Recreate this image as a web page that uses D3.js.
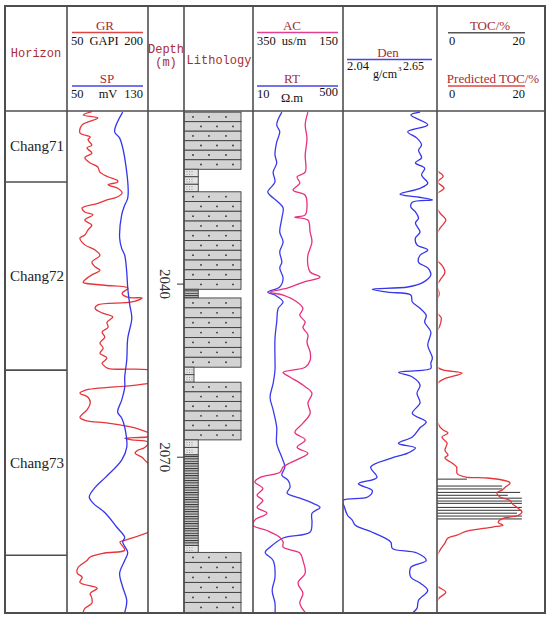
<!DOCTYPE html>
<html>
<head>
<meta charset="utf-8">
<script src="https://cdn.jsdelivr.net/npm/d3@7"></script>
<style>
body { margin: 0; background: #fff; }
</style>
</head>
<body>
<div id="chart"></div>
<script>
// horizons and depth
var horizons = ["Chang71", "Chang72", "Chang73", ""];
var horizonTops = [2010, 2022.3, 2054.9, 2087.0];
var horizonBases = [2022.3, 2054.9, 2087.0, 2097];
var depthTicks = [2040, 2070];

// lithology
var lithTop = [2010.2, 2020.1, 2024.0, 2040.9, 2042.4, 2054.4, 2057.0, 2067.0, 2069.6, 2085.3, 2086.5];
var lithBase = [2020.1, 2024.0, 2040.9, 2042.4, 2054.4, 2057.0, 2067.0, 2069.6, 2085.3, 2086.5, 2096.9];
var lithType = ["sand", "silt", "sand", "mud", "sand", "silt", "sand", "silt", "mud", "silt", "sand"];
var lithGrain = [4, 1, 4, 1, 4, 0.7, 4, 1, 1, 1, 4];

// GR (GAPI)
var grDepth = [2010.1,2010.7,2011.2,2012.4,2013.8,2014.5,2015.0,2015.9,2016.4,2017.3,2018.1,2019.0,2019.7,2020.6,2021.4,2022.0,2022.3,2022.8,2023.4,2024.2,2024.9,2025.4,2026.0,2026.8,2027.5,2028.0,2028.9,2029.8,2030.6,2031.5,2032.0,2033.2,2034.1,2035.0,2036.2,2037.0,2037.6,2038.4,2039.3,2039.7,2040.2,2040.7,2041.6,2042.3,2042.4,2043.1,2043.6,2044.2,2045.0,2045.7,2046.6,2047.5,2048.3,2049.2,2050.2,2051.1,2052.0,2052.8,2053.7,2054.0,2054.6,2054.9,2056.1,2057.2,2058.4,2058.9,2059.6,2060.6,2061.8,2063.1,2063.6,2064.1,2064.8,2065.7,2066.2,2066.5,2066.7,2067.0,2067.4,2068.3,2068.8,2069.3,2070.0,2070.5,2071.0,2072.2,2077.5,2081.8,2083.0,2084.4,2084.7,2086.1,2086.6,2087.3,2087.9,2089.2,2090.1,2090.8,2091.7,2092.7,2093.6,2094.4,2095.3,2096.2,2096.9];
var grVal = [96,80,107,78,74,93,89,96,87,96,83,93,107,111,126,143,144,126,144,152,143,124,107,78,83,98,83,96,89,83,74,83,102,111,96,102,111,96,83,80,120,163,152,163,189,170,107,102,115,135,124,126,115,120,111,117,111,124,115,117,126,204,231,200,83,74,89,93,87,74,83,126,170,200,213,198,157,170,200,194,181,176,189,194,200,231,250,222,200,157,148,157,120,93,87,70,69,78,74,106,93,96,96,83,80];

// SP (mV)
var spDepth = [2010.2,2013.6,2014.7,2020.6,2025.1,2026.3,2028.0,2032.0,2033.8,2035.0,2037.9,2040.7,2043.6,2045.9,2049.4,2053.2,2056.1,2057.9,2060.1,2062.2,2063.2,2064.8,2068.3,2070.5,2073.5,2075.2,2076.9,2078.0,2079.7,2082.1,2083.9,2084.7,2086.5,2087.9,2090.1,2092.5,2094.8,2096.9];
var spVal = [105,97,102,109,110,107,104,102,104,107,109,110,112,114,110,109,107,107,104,100,104,107,109,104,88,78,72,76,88,99,107,105,110,107,102,105,109,107];

// AC (us/m)
var acDepth = [2010.2,2012.4,2014.7,2017.6,2020.6,2021.4,2022.5,2023.7,2024.6,2026.3,2028.0,2028.4,2028.9,2031.0,2032.7,2035.0,2036.7,2037.9,2038.8,2039.7,2040.7,2041.4,2041.9,2043.1,2044.2,2045.4,2046.6,2047.5,2048.8,2050.1,2051.8,2053.2,2054.4,2055.3,2056.1,2057.5,2058.9,2060.6,2062.4,2064.1,2065.7,2067.0,2068.3,2069.3,2070.2,2071.0,2071.7,2072.6,2073.5,2074.3,2075.4,2076.6,2077.5,2078.7,2079.7,2080.9,2081.8,2082.7,2083.9,2084.7,2085.6,2086.6,2087.9,2090.1,2091.8,2093.6,2095.3,2096.9];
var acVal = [228,234,230,234,234,252,246,261,234,230,234,257,228,223,219,228,228,223,201,239,274,312,283,252,239,246,234,239,228,230,223,223,234,283,268,239,219,228,223,239,257,234,252,228,246,268,283,290,334,346,328,341,328,341,319,346,350,319,290,283,283,246,239,234,250,239,246,234];

// RT (ohm.m)
var rtDepth = [2010.2,2012.4,2013.6,2015.4,2017.6,2019.0,2020.6,2022.3,2024.0,2024.6,2025.8,2026.8,2028.6,2031.0,2032.7,2034.4,2036.2,2037.2,2039.0,2040.5,2041.4,2041.9,2043.1,2044.2,2046.6,2049.4,2053.2,2054.9,2057.2,2059.6,2061.8,2064.8,2067.6,2070.0,2071.7,2073.1,2074.0,2075.2,2076.2,2077.1,2078.0,2078.7,2079.7,2081.4,2083.0,2084.0,2085.6,2086.5,2087.9,2090.8,2093.1,2095.3,2097.0];
var rtVal = [35,28,32,28,26,28,24,26,19,21,30,37,35,32,37,32,35,32,37,32,19,26,37,30,28,26,26,26,24,21,24,28,28,35,40,35,46,50,44,77,136,184,130,130,119,37,21,17,24,26,23,26,26];

// Den (g/cm3)
var denDepth = [2010.2,2010.7,2012.4,2013.6,2014.7,2015.9,2016.8,2018.1,2019.0,2019.9,2021.1,2022.5,2023.4,2024.4,2024.9,2025.4,2025.8,2026.6,2027.5,2028.6,2029.4,2031.0,2032.0,2033.2,2034.1,2035.0,2036.2,2037.2,2038.4,2039.7,2040.5,2040.9,2041.4,2041.9,2043.1,2044.2,2045.4,2046.6,2048.3,2050.6,2052.8,2053.7,2054.6,2055.3,2056.1,2057.5,2058.9,2060.6,2062.4,2063.9,2064.9,2066.5,2067.6,2068.4,2069.3,2070.2,2071.7,2073.5,2074.6,2075.8,2076.9,2077.5,2078.7,2080.1,2080.9,2081.8,2083.0,2084.7,2085.8,2086.6,2087.9,2089.1,2090.8,2091.8,2093.1,2094.8,2096.2,2097.0];
var denVal = [2.54,2.48,2.59,2.46,2.52,2.55,2.53,2.55,2.51,2.57,2.55,2.59,2.54,2.41,2.52,2.62,2.49,2.48,2.51,2.53,2.51,2.54,2.51,2.52,2.59,2.54,2.53,2.59,2.61,2.56,2.46,2.23,2.33,2.48,2.49,2.54,2.58,2.57,2.61,2.59,2.62,2.61,2.61,2.40,2.49,2.54,2.52,2.54,2.49,2.58,2.54,2.49,2.40,2.51,2.46,2.35,2.22,2.26,2.14,2.23,2.20,2.04,2.05,2.07,2.10,2.12,2.23,2.35,2.36,2.52,2.58,2.48,2.48,2.54,2.59,2.53,2.52,2.49];

// predicted TOC (%)
var tocPredDepth = [2010.0,2020.2,2021.3,2022.3,2023.4,2024.4,2026.8,2027.7,2028.9,2030.3,2031.3,2035.8,2036.7,2037.9,2039.3,2040.2,2041.7,2042.8,2044.9,2045.9,2047.3,2048.3,2054.2,2054.9,2055.4,2056.3,2057.5,2063.6,2064.1,2065.3,2065.8,2066.5,2067.6,2068.8,2069.6,2070.1,2071.0,2071.8,2072.7,2073.5,2073.6,2074.2,2074.5,2075.2,2075.7,2076.2,2076.9,2077.5,2078.0,2078.7,2079.5,2080.1,2080.6,2081.3,2081.8,2082.1,2082.7,2083.5,2084.0,2084.9,2086.1,2087.3,2092.2,2093.4,2094.4,2095.3,2097.0];
var tocPredVal = [0,0,1.4,0.2,1.6,0,0,0.7,2.0,0.7,0,0,1.1,1.8,0.7,0,0.5,0,0,1.0,0.6,0,0,1.5,5.7,2.0,0,0,0.2,1.4,2.5,1.1,2.3,1.8,2.5,1.8,3.4,4.5,4.5,6.8,11.4,16.1,16.6,15.5,14.8,13.6,14.3,16.6,17.0,18.2,19.3,18.4,15.0,13.9,15.0,12.7,7.5,4.5,2.5,1.8,0.7,0,0,2.0,0.5,0,0];

// measured TOC (%)
var tocDepth = [2073.8,2075.0,2075.5,2076.1,2076.6,2077.1,2077.6,2078.0,2078.7,2079.2,2079.7,2080.2,2080.7];
var tocVal = [6.8,14.8,14.8,18.9,16.1,19.3,19.3,19.3,19.3,19.3,18.2,19.3,19.3];

var W = 550, H = 620;
var colX = [5, 67, 148, 184, 253, 343, 437, 545];
var frameTop = 6, headBot = 111, frameBot = 613;
var red = "#a82c32";
var serif = "'Liberation Serif', 'Times New Roman', serif";
var mono = "'Liberation Mono', 'DejaVu Sans Mono', monospace";

var svg = d3.select("#chart").append("svg")
    .attr("width", W)
    .attr("height", H);

var y = d3.scaleLinear().domain([2010, 2097]).range([headBot, frameBot]);
var grX = d3.scaleLinear().domain([50, 200]).range([67, 148]);
var spX = d3.scaleLinear().domain([50, 130]).range([67, 148]);
var acX = d3.scaleLinear().domain([350, 150]).range([253, 343]);
var rtX = d3.scaleLog().domain([10, 500]).range([253, 343]);
var denX = d3.scaleLinear().domain([2.04, 2.65]).range([343, 437]);
var tocX = d3.scaleLinear().domain([0, 20]).range([437, 525]);
var lithX = d3.scaleLinear().domain([0, 4]).range([184, 241]);

var defs = svg.append("defs");
function addClip(id, x0, x1) {
    defs.append("clipPath").attr("id", id).append("rect")
        .attr("x", x0).attr("y", headBot).attr("width", x1 - x0).attr("height", frameBot - headBot);
}
addClip("clipGR", 67, 148);
addClip("clipAC", 253, 343);
addClip("clipDen", 343, 437);
addClip("clipTOC", 438.5, 545);

var mudPat = defs.append("pattern").attr("id", "mudPat")
    .attr("patternUnits", "userSpaceOnUse").attr("width", 8).attr("height", 2.4);
mudPat.append("rect").attr("width", 8).attr("height", 2.4).attr("fill", "#cdcdcd");
mudPat.append("line").attr("x1", 0).attr("x2", 8).attr("y1", 0.5).attr("y2", 0.5)
    .attr("stroke", "#2e2e2e").attr("stroke-width", 1);

svg.append("rect").attr("width", W).attr("height", H).attr("fill", "#fff");

// ---- lithology ----
var lith = svg.append("g");
lithType.forEach(function (t, i) {
    var x0 = lithX(0), x1 = lithX(lithGrain[i]);
    var y0 = y(lithTop[i]), y1 = y(lithBase[i]);
    if (t === "mud") {
        lith.append("rect").attr("x", x0).attr("y", y0).attr("width", x1 - x0).attr("height", y1 - y0)
            .attr("fill", "url(#mudPat)").attr("stroke", "#444").attr("stroke-width", 0.9);
        return;
    }
    var rowH = t === "sand" ? 9.7 : 7.7;
    var n = Math.max(1, Math.round((y1 - y0) / rowH));
    var h = (y1 - y0) / n;
    for (var k = 0; k < n; k++) {
        var ry = y0 + k * h;
        lith.append("rect").attr("x", x0).attr("y", ry).attr("width", x1 - x0).attr("height", h)
            .attr("fill", t === "sand" ? "#d3d3d3" : "#e4e4e4")
            .attr("stroke", "#3c3c3c").attr("stroke-width", 0.9);
        if (t === "sand") {
            var offs = k % 2 === 0 ? [9, 25, 42] : [17, 33, 49];
            offs.forEach(function (o) {
                lith.append("circle").attr("cx", x0 + o).attr("cy", ry + h / 2).attr("r", 0.9).attr("fill", "#333");
            });
        } else {
            [3, 5.5, 8].forEach(function (o) {
                [h / 2 - 1.2, h / 2 + 1.2].forEach(function (dy) {
                    lith.append("circle").attr("cx", x0 + o).attr("cy", ry + dy).attr("r", 0.5).attr("fill", "#777");
                });
            });
        }
    }
});

// ---- curves ----
function drawCurve(depths, vals, xs, color, clip, curve) {
    var pts = depths.map(function (d, i) { return [d, vals[i]]; });
    var line = d3.line()
        .x(function (p) { return xs(p[1]); })
        .y(function (p) { return y(p[0]); })
        .curve(curve || d3.curveCatmullRom.alpha(0.5));
    svg.append("path").datum(pts)
        .attr("d", line)
        .attr("fill", "none")
        .attr("stroke", color)
        .attr("stroke-width", 1.3)
        .attr("clip-path", "url(#" + clip + ")");
}
drawCurve(grDepth, grVal, grX, "#e6353a", "clipGR");
drawCurve(spDepth, spVal, spX, "#3535ec", "clipGR");
drawCurve(rtDepth, rtVal, rtX, "#3a3aee", "clipAC");
drawCurve(acDepth, acVal, acX, "#e8307c", "clipAC");
drawCurve(denDepth, denVal, denX, "#3535ec", "clipDen");

// measured TOC bars
svg.append("g").selectAll("line").data(tocDepth).join("line")
    .attr("x1", tocX(0))
    .attr("x2", function (d, i) { return tocX(tocVal[i]); })
    .attr("y1", function (d) { return y(d); })
    .attr("y2", function (d) { return y(d); })
    .attr("stroke", "#333").attr("stroke-width", 1);
drawCurve(tocPredDepth, tocPredVal, tocX, "#e6353a", "clipTOC", d3.curveMonotoneY);

// ---- frame and grid ----
var grid = svg.append("g").attr("stroke", "#4e4e4e").attr("stroke-width", 1.6).attr("fill", "none");
grid.append("rect").attr("x", colX[0]).attr("y", frameTop)
    .attr("width", colX[7] - colX[0]).attr("height", frameBot - frameTop).attr("stroke-width", 2);
grid.append("line").attr("x1", colX[0]).attr("x2", colX[7]).attr("y1", headBot).attr("y2", headBot);
colX.slice(1, 7).forEach(function (x) {
    grid.append("line").attr("x1", x).attr("x2", x).attr("y1", frameTop).attr("y2", frameBot);
});
horizonTops.slice(1).forEach(function (d) {
    grid.append("line").attr("x1", colX[0]).attr("x2", colX[1]).attr("y1", y(d)).attr("y2", y(d));
});

// horizon labels
svg.append("g").selectAll("text").data(horizons).join("text")
    .attr("x", (colX[0] + colX[1]) / 2 + 1)
    .attr("y", function (d, i) { return (y(horizonTops[i]) + y(horizonBases[i])) / 2 + 5; })
    .attr("text-anchor", "middle")
    .attr("font-family", serif).attr("font-size", 15).attr("fill", "#222")
    .text(function (d) { return d; });

// depth ticks
var dt = svg.append("g");
dt.selectAll("line").data(depthTicks).join("line")
    .attr("x1", colX[3] - 7).attr("x2", colX[3])
    .attr("y1", function (d) { return y(d); }).attr("y2", function (d) { return y(d); })
    .attr("stroke", "#333").attr("stroke-width", 1);
dt.selectAll("text").data(depthTicks).join("text")
    .attr("transform", function (d) { return "translate(160," + y(d) + ") rotate(90)"; })
    .attr("text-anchor", "middle")
    .attr("font-family", serif).attr("font-size", 15).attr("fill", "#333")
    .text(function (d) { return d; });

// ---- header ----
var hd = svg.append("g");
function txt(x, yy, s, opts) {
    opts = opts || {};
    return hd.append("text").attr("x", x).attr("y", yy)
        .attr("text-anchor", opts.anchor || "middle")
        .attr("font-family", opts.font || serif)
        .attr("font-size", opts.size || 12.5)
        .attr("fill", opts.color || "#111")
        .text(s);
}
function hline(x0, x1, yy, color) {
    hd.append("line").attr("x1", x0).attr("x2", x1).attr("y1", yy).attr("y2", yy)
        .attr("stroke", color).attr("stroke-width", 1.5);
}
txt(36, 57, "Horizon", { font: mono, size: 12, color: red });
txt(166, 53, "Depth", { font: mono, size: 12, color: red });
txt(166, 66, "(m)", { font: mono, size: 12, color: red });
txt(219, 64, "Lithology", { font: mono, size: 12, color: red });

// GR / SP
txt(105, 30, "GR", { color: red, size: 13 });
hline(72, 143, 32.5, "#e04545");
txt(71, 45, "50", { anchor: "start" });
txt(104, 45, "GAPI");
txt(143, 45, "200", { anchor: "end" });
txt(107, 83, "SP", { color: red, size: 13 });
hline(72, 143, 86, "#4545e8");
txt(71, 97.5, "50", { anchor: "start" });
txt(108, 97.5, "mV");
txt(143, 97.5, "130", { anchor: "end" });

// AC / RT
txt(292, 30, "AC", { color: red, size: 13 });
hline(257, 338, 32.5, "#e23f93");
txt(257, 45, "350", { anchor: "start" });
txt(294, 45, "us/m");
txt(338, 45, "150", { anchor: "end" });
txt(292, 83, "RT", { color: red, size: 13 });
hline(257, 338, 86, "#4545e8");
txt(257, 97.5, "10", { anchor: "start" });
txt(292, 102, "\u03A9.m");
txt(338, 96, "500", { anchor: "end" });

// Den
txt(388, 56.5, "Den", { color: red, size: 13 });
hline(347, 432, 59.5, "#4545e8");
txt(347, 70, "2.04", { anchor: "start" });
txt(385, 78, "g/cm", { size: 12 });
txt(398, 71, "3", { anchor: "start", size: 7 });
txt(424, 70, "2.65", { anchor: "end", size: 12 });

// TOC
txt(490, 30, "TOC/%", { color: red, size: 13 });
hline(448, 525, 32.7, "#555");
txt(449, 45, "0", { anchor: "start" });
txt(525, 45, "20", { anchor: "end" });
txt(493, 83, "Predicted  TOC/%", { color: red, size: 13 });
hline(448, 525, 86, "#e04545");
txt(449, 97.5, "0", { anchor: "start" });
txt(525, 97.5, "20", { anchor: "end" });
</script>
</body>
</html>
